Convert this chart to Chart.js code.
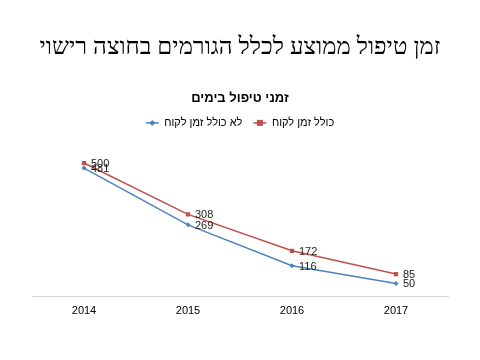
<!DOCTYPE html>
<html><head><meta charset="utf-8">
<script src="https://cdn.jsdelivr.net/npm/chart.js@4/dist/chart.umd.min.js"></script>
<style>html,body{margin:0;padding:0;background:#fff}#w{width:480px;height:360px}</style>
</head><body><div id="w"><canvas id="c" width="480" height="360"></canvas></div>
<script>
const categories = ['2014', '2015', '2016', '2017'];
const withClient = [500, 308, 172, 85];
const withoutClient = [481, 269, 116, 50];
const seriesNames = ['כולל זמן לקוח', 'לא כולל זמן לקוח'];
const mainTitle = 'זמן טיפול ממוצע לכלל הגורמים בחוצה רישוי';
const subTitle = 'זמני טיפול בימים';
const seriesColors = ['#C0504D', '#4F81BD'];

function drawMarker(ctx, style, cx, cy) {
  if (style === 'rect') { ctx.fillRect(cx - 3, cy - 3, 6, 6); }
  else { ctx.beginPath(); ctx.moveTo(cx, cy - 3); ctx.lineTo(cx + 3, cy); ctx.lineTo(cx, cy + 3); ctx.lineTo(cx - 3, cy); ctx.closePath(); ctx.fill(); }
}

const labelPlugin = {
  id: 'ptLabels',
  afterDatasetsDraw(chart) {
    const ctx = chart.ctx;
    ctx.save();
    ctx.font = '11px "Liberation Sans", Arial, sans-serif';
    ctx.fillStyle = '#222';
    ctx.textBaseline = 'middle';
    ctx.textAlign = 'left';
    chart.data.datasets.forEach((ds, i) => {
      const meta = chart.getDatasetMeta(i);
      meta.data.forEach((pt, j) => {
        ctx.fillText(String(ds.data[j]), pt.x + 7, pt.y + 1);
      });
    });
    ctx.restore();
  }
};

const legendLines = {
  id: 'legendLines',
  afterDraw(chart) {
    const lg = chart.legend; const ctx = chart.ctx;
    if (!lg || !lg.legendHitBoxes) return;
    ctx.save();
    lg.legendHitBoxes.forEach((hb, k) => {
      const ds = chart.data.datasets[lg.legendItems[k].datasetIndex];
      const bw = lg.options.labels.boxWidth;
      const x1 = hb.left, x2 = hb.left + bw;
      const cy = hb.top + hb.height / 2;
      ctx.strokeStyle = ds.borderColor; ctx.lineWidth = 1.5;
      ctx.beginPath(); ctx.moveTo(x1, cy); ctx.lineTo(x2, cy); ctx.stroke();
      ctx.fillStyle = ds.backgroundColor;
      drawMarker(ctx, ds.pointStyle, (x1 + x2) / 2, cy);
    });
    ctx.restore();
  }
};

new Chart(document.getElementById('c'), {
  type: 'line',
  data: {
    labels: categories,
    datasets: [
      { label: seriesNames[0], data: withClient, borderColor: seriesColors[0], backgroundColor: seriesColors[0],
        borderWidth: 1.5, pointStyle: 'rect', pointRadius: 3, pointBorderWidth: 0, tension: 0 },
      { label: seriesNames[1], data: withoutClient, borderColor: seriesColors[1], backgroundColor: seriesColors[1],
        borderWidth: 1.5, pointStyle: 'rectRot', pointRadius: 2.5, pointBorderWidth: 0, tension: 0 }
    ]
  },
  options: {
    responsive: false,
    animation: false,
    devicePixelRatio: 1,
    layout: { padding: { left: 32, right: 32, top: 0, bottom: 34 } },
    plugins: {
      title: { display: true, text: mainTitle, color: '#000',
        font: { family: '"Liberation Serif", "Times New Roman", serif', size: 24, weight: 'normal' },
        padding: { top: 33, bottom: 29 } },
      subtitle: { display: true, text: subTitle, color: '#000',
        font: { family: '"Liberation Sans", Arial, sans-serif', size: 13, weight: 'bold' },
        padding: { top: 0, bottom: 0 } },
      legend: { display: true, rtl: false, reverse: true, position: 'top',
        labels: { color: '#000', font: { family: '"Liberation Sans", Arial, sans-serif', size: 11 },
          boxWidth: 13, boxHeight: 11, padding: 11,
          generateLabels(chart) {
            return chart.data.datasets.map((ds, i) => ({
              text: ds.label, fillStyle: 'rgba(0,0,0,0)', strokeStyle: 'rgba(0,0,0,0)',
              lineWidth: 0, fontColor: '#000', datasetIndex: i, hidden: false
            }));
          } } },
      tooltip: { enabled: false }
    },
    scales: {
      x: { offset: true, grid: { display: false, drawTicks: false },
        border: { display: true, color: '#d9d9d9', width: 1 },
        ticks: { color: '#000', padding: 8, font: { family: '"Liberation Sans", Arial, sans-serif', size: 11 } } },
      y: { display: false, min: 0, max: 592 }
    }
  },
  plugins: [labelPlugin, legendLines]
});
</script></body></html>
